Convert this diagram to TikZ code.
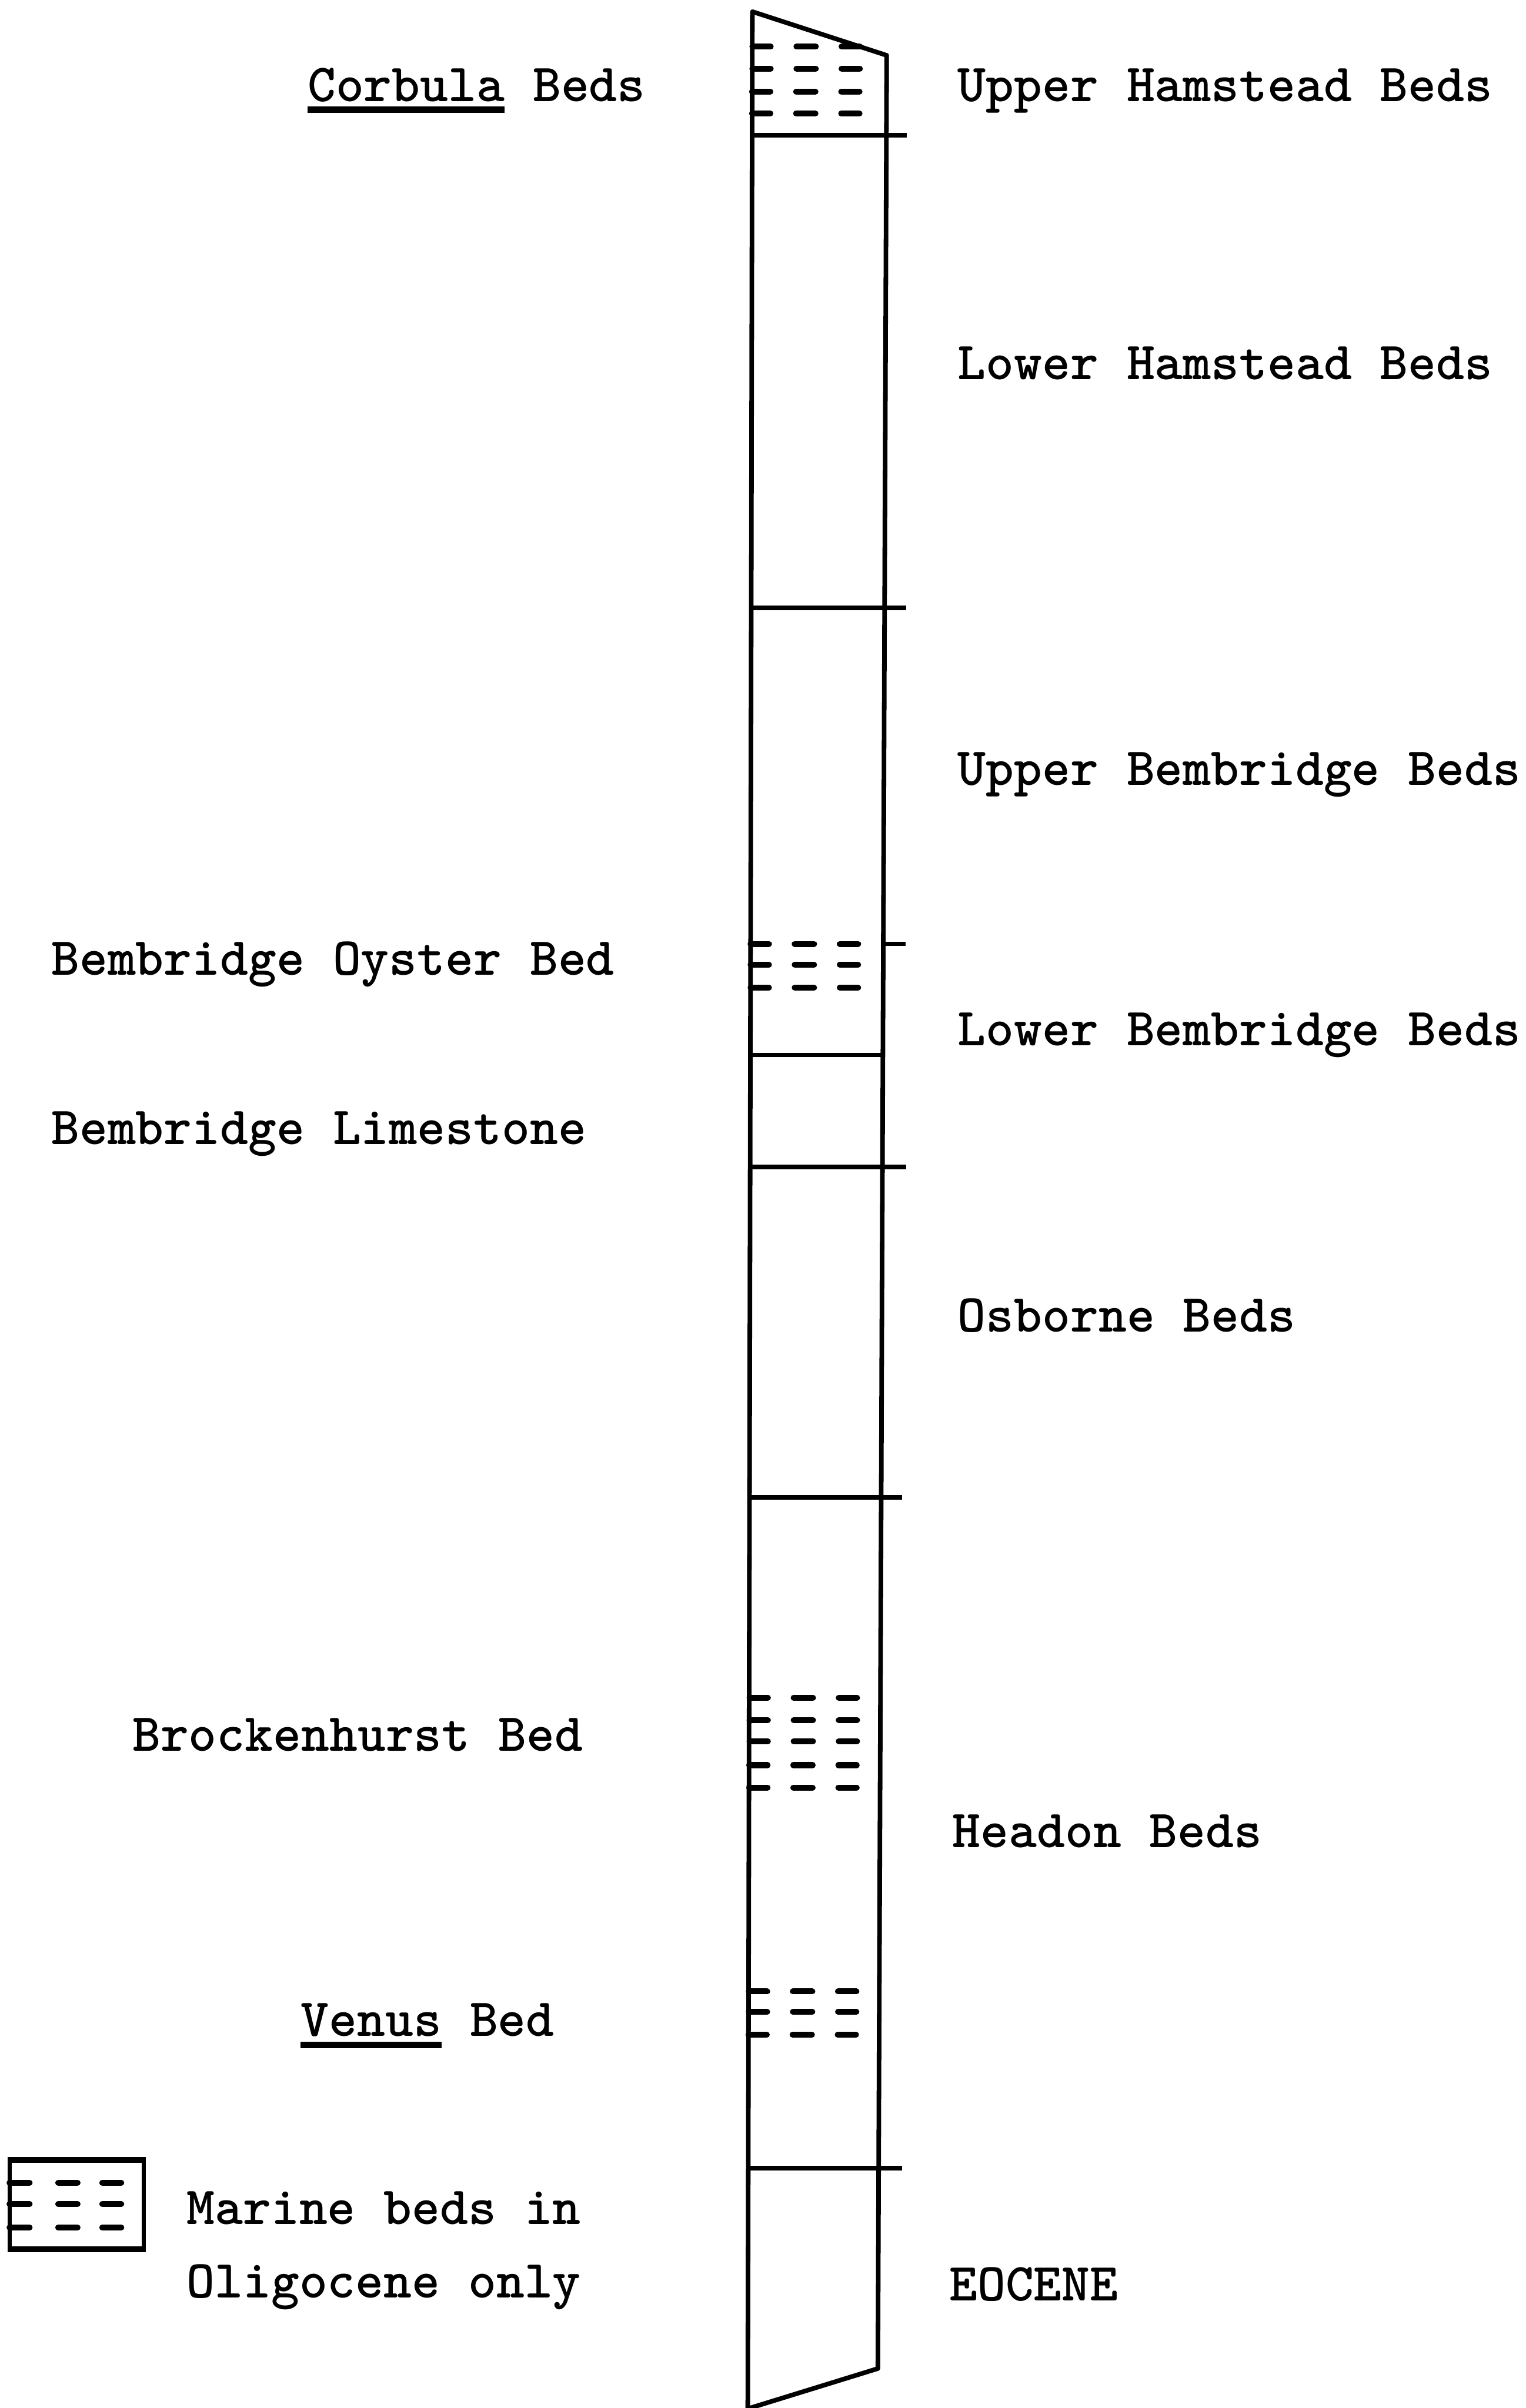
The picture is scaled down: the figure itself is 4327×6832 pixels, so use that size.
\documentclass[tikz,border=0pt]{standalone}
\begin{document}
\begin{tikzpicture}[x=0.01cm,y=-0.01cm,
  rule/.style={line width=3.7pt},
  thin rule/.style={line width=3.4pt},
  dsh/.style={line width=4.8pt,line cap=round},
  ul/.style={line width=5.5pt},
  lbl/.style={anchor=base west,inner sep=0pt,font=\fontsize{43.25pt}{52pt}\selectfont\ttfamily\bfseries}]
\useasboundingbox (0,0) rectangle (4327,6832);
\fill[white] (0,0) rectangle (4327,6832);

% column outline
\coordinate (TL) at (2134,33);
\coordinate (TR) at (2515,157);
\coordinate (BR) at (2490,6720);
\coordinate (BL) at (2121,6834);
\draw[rule,line join=round] (TL) -- (TR) -- (BR) -- (BL) -- cycle;

% bed boundaries
\draw[rule] (2133,383) -- (2572,383);
\draw[rule] (2131,1725) -- (2571,1725);
\draw[rule] (2505,2678) -- (2569,2678);
\draw[rule] (2128,2993) -- (2504,2993);
\draw[rule] (2128,3311) -- (2571,3311);
\draw[rule] (2126,4248) -- (2558,4248);
\draw[rule] (2122,6152) -- (2558,6152);

% marine symbols in column
\foreach \y/\xl in {132/2134,195/2134,260/2133,322/2133,
                    2678/2129,2737/2129,2802/2129,
                    4817/2126,4880/2126,4940/2126,5008/2125,5072/2125,
                    5650/2124,5708/2124,5773/2123}{
  \draw[dsh] (\xl,\y) -- (\xl+52,\y);
  \draw[dsh] (\xl+125,\y) -- (\xl+180,\y);
  \draw[dsh] (\xl+253,\y) -- (\xl+305,\y);
}

% legend symbol
\draw[thin rule] (27,6128) -- (27,6382);
\draw[thin rule] (408,6128) -- (408,6382);
\draw[dsh,line cap=butt] (22,6128) -- (413,6128);
\draw[dsh,line cap=butt] (22,6382) -- (413,6382);
\foreach \y in {6193,6253,6320}{
  \draw[dsh] (27,\y) -- (84,\y);
  \draw[dsh] (165,\y) -- (220,\y);
  \draw[dsh] (290,\y) -- (344,\y);
}

% right-hand labels
\node[lbl] (uham) at (2716,288) {Upper Hamstead Beds};
\node[lbl] (lham) at (2716,1076) {Lower Hamstead Beds};
\node[lbl] (ubem) at (2716,2227) {Upper Bembridge Beds};
\node[lbl] (lbem) at (2716,2967) {Lower Bembridge Beds};
\node[lbl] (osb)  at (2716,3778) {Osborne Beds};
\node[lbl] (head) at (2701,5242) {Headon Beds};
\node[lbl] (eoc)  at (2692,6527) {EOCENE};

% left-hand labels
\node[lbl] (corb) at (872,288) {Corbula Beds};
\draw[ul] ([yshift=-0.23cm]corb.base west) -- ++(559,0);
\node[lbl] (oyst) at (145,2767) {Bembridge Oyster Bed};
\node[lbl] (lime) at (145,3246) {Bembridge Limestone};
\node[lbl] (brock) at (375,4968) {Brockenhurst Bed};
\node[lbl] (venus) at (853,5777) {Venus Bed};
\draw[ul] ([yshift=-0.25cm]venus.base west) -- ++(400,0);
\node[lbl] (mar1) at (529,6311) {Marine beds in};
\node[lbl] (mar2) at (529,6519) {Oligocene only};
\end{tikzpicture}
\end{document}
